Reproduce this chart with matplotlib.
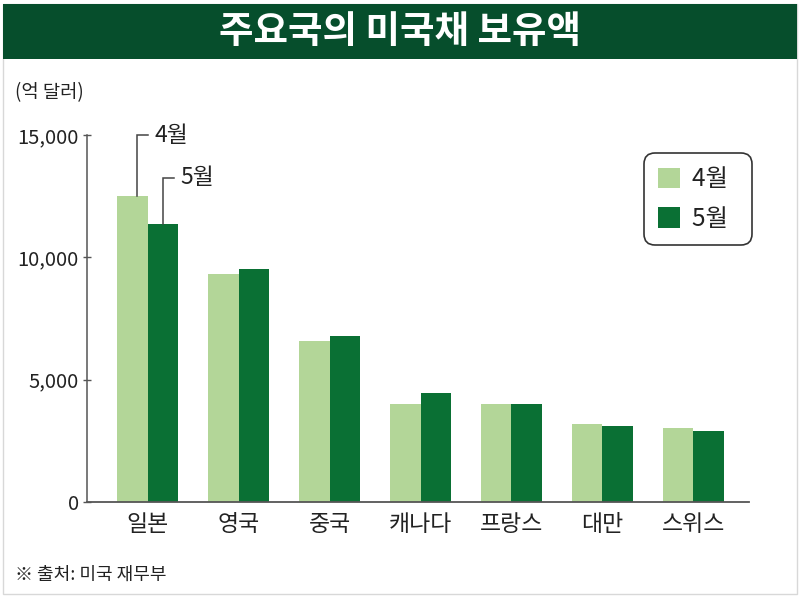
import matplotlib
matplotlib.use("Agg")
import matplotlib.pyplot as plt
from matplotlib.patches import Rectangle, Patch
import numpy as np

plt.rcParams['font.family'] = ['Noto Sans CJK KR', 'DejaVu Sans']

title = "주요국의 미국채 보유액"
unit_label = "(억 달러)"
source = "※ 출처: 미국 재무부"
categories = ["일본", "영국", "중국", "캐나다", "프랑스", "대만", "스위스"]
series_names = ["4월", "5월"]
april = [12500, 9300, 6590, 4000, 4000, 3200, 3040]
may = [11350, 9510, 6800, 4470, 4010, 3110, 2890]
yticks = [0, 5000, 10000, 15000]
ytick_labels = ["0", "5,000", "10,000", "15,000"]

c_light = "#b3d698"
c_dark = "#0a7034"
c_title = "#064e2c"
c_ink = "#222222"

fig = plt.figure(figsize=(8.0, 5.99), dpi=100)
fig.patch.set_facecolor("white")

# border
fig.add_artist(Rectangle((0.00375, 0.0085), 0.9925, 0.985, transform=fig.transFigure,
                         facecolor="none", edgecolor="#d8d8d8", linewidth=1.0, zorder=0))
# title bar
fig.add_artist(Rectangle((0.00375, 0.9015), 0.9925, 0.0918, transform=fig.transFigure,
                         facecolor=c_title, edgecolor="none", zorder=1))
fig.text(0.5, 0.948, title, color="white", fontsize=27, fontweight="bold",
         ha="center", va="center", zorder=2)

ax = fig.add_axes([0.10875, 0.1619, 0.8275, 0.6127])
x = np.arange(len(categories))
w = 0.33
ax.bar(x - w / 2, april, width=w, color=c_light, zorder=2)
ax.bar(x + w / 2, may, width=w, color=c_dark, zorder=2)

ax.set_xlim(-0.665, 6.61)
ax.set_ylim(0, 15000)
ax.set_yticks(yticks)
ax.set_yticklabels(ytick_labels, fontsize=14.5, color=c_ink)
ax.set_xticks(x)
ax.set_xticklabels(categories, fontsize=16.5, color=c_ink)
ax.tick_params(axis='x', length=0, pad=8)
ax.tick_params(axis='y', direction='inout', length=6, width=1.0, color="#555555", pad=3)
for s in ["top", "right"]:
    ax.spines[s].set_visible(False)
ax.spines["left"].set_color("#555555")
ax.spines["bottom"].set_color("#555555")
ax.spines["left"].set_linewidth(1.1)
ax.spines["bottom"].set_linewidth(1.3)

# callouts for first category
lab_y = [15000, 13250]
offs = [-w / 2 + 0.045, w / 2]
for k, (vals, ly, off, name) in enumerate(zip([april, may], lab_y, offs, series_names)):
    xv = x[0] + off
    ax.plot([xv, xv, xv + 0.13], [vals[0], ly, ly], color="#444444", lw=1.1,
            clip_on=False, zorder=3, solid_joinstyle="miter")
    ax.text(xv + 0.2, ly, name, fontsize=16.5, color=c_ink, ha="left", va="center",
            clip_on=False)

handles = [Patch(facecolor=c_light, edgecolor="none"), Patch(facecolor=c_dark, edgecolor="none")]
leg = ax.legend(handles, [s + "  " for s in series_names], loc="upper right",
                bbox_to_anchor=(1.005, 0.951),
                fontsize=17.5, handlelength=0.92, handleheight=0.92, labelspacing=0.55,
                borderpad=0.55, handletextpad=0.5, borderaxespad=0, frameon=True,
                fancybox=True)
fr = leg.get_frame()
fr.set_edgecolor("#333333")
fr.set_linewidth(1.2)
fr.set_alpha(1)
fr.set_boxstyle("round,pad=0,rounding_size=0.45")
for t in leg.get_texts():
    t.set_color(c_ink)

fig.text(0.019, 0.845, unit_label, fontsize=13.5, color=c_ink, ha="left", va="center")
fig.text(0.019, 0.04, source, fontsize=13, color=c_ink, ha="left", va="center")

fig.savefig("out.png", dpi=100, facecolor="white")
